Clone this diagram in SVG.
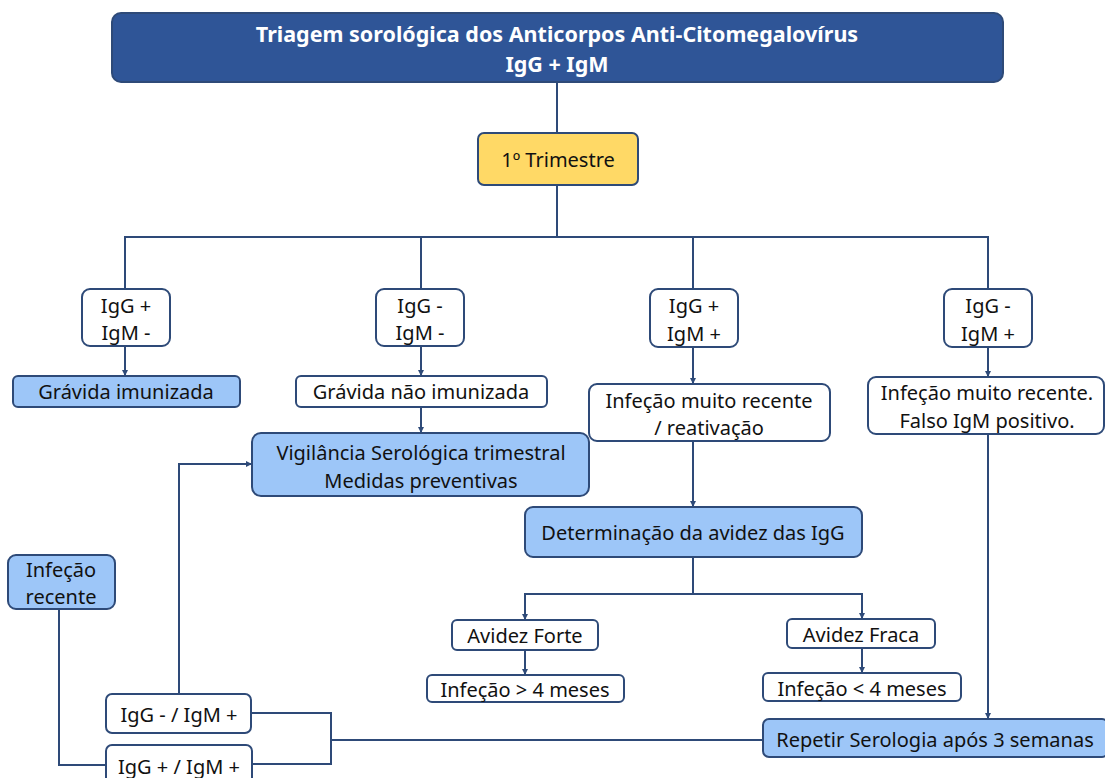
<svg xmlns="http://www.w3.org/2000/svg" width="1105" height="778" viewBox="0 0 1105 778">
  <style>
    .box { stroke: #2E4A78; stroke-width: 2; }
    .white { fill: #FFFFFF; }
    .blue { fill: #9DC6F8; }
    .lbl { font-family: "Noto Sans", "Open Sans", sans-serif; font-size: 20px; fill: #111111; text-anchor: middle; dominant-baseline: central; }
    .title { font-family: "Noto Sans", "Open Sans", sans-serif; font-size: 21.5px; font-weight: bold; fill: #FFFFFF; text-anchor: middle; dominant-baseline: central; }
    .wire { fill: none; stroke: #2E4A78; stroke-width: 2; }
  </style>
  <defs>
    <marker id="arr" markerWidth="6" markerHeight="6" refX="5" refY="3" orient="auto" markerUnits="userSpaceOnUse">
      <path d="M0,0 L6,3 L0,6 Z" fill="#2E4A78"/>
    </marker>
  </defs>
  <rect width="1105" height="778" fill="#FFFFFF"/>

  <g id="connectors">
    <path class="wire" d="M557,82 V133"/>
    <path class="wire" d="M557,185 V237 M125,289 V237 H988 V289 M421,237 V289 M693,237 V289"/>
    <path class="wire" d="M125,346 V375" marker-end="url(#arr)"/>
    <path class="wire" d="M421,346 V375" marker-end="url(#arr)"/>
    <path class="wire" d="M693,347 V383" marker-end="url(#arr)"/>
    <path class="wire" d="M988,347 V376" marker-end="url(#arr)"/>
    <path class="wire" d="M421,407 V432" marker-end="url(#arr)"/>
    <path class="wire" d="M693,441 V506" marker-end="url(#arr)"/>
    <path class="wire" d="M693,557 V594 H862 V618" marker-end="url(#arr)"/>
    <path class="wire" d="M693,594 H525 V619" marker-end="url(#arr)"/>
    <path class="wire" d="M525,650 V674" marker-end="url(#arr)"/>
    <path class="wire" d="M862,648 V672" marker-end="url(#arr)"/>
    <path class="wire" d="M988,434 V718" marker-end="url(#arr)"/>
    <path class="wire" d="M179,694 V464 H251" marker-end="url(#arr)"/>
    <path class="wire" d="M59,609 V765 H106"/>
    <path class="wire" d="M251,713 H331 V764 H252 M331,740 H763"/>
  </g>

  <g id="n-title">
    <rect class="box" x="112" y="13" width="891" height="69" rx="9" fill="#2F5597" stroke="#24447A"/>
    <text class="title" x="557" y="33">Triagem sorológica dos Anticorpos Anti-Citomegalovírus</text>
    <text class="title" x="557" y="63">IgG + IgM</text>
  </g>

  <g id="n-trimestre">
    <rect class="box" x="478" y="133" width="160" height="52" rx="6" fill="#FFD966"/>
    <text class="lbl" x="558" y="159">1º Trimestre</text>
  </g>

  <g id="n-igg-pos-igm-neg">
    <rect class="box white" x="82" y="289" width="88" height="57" rx="8"/>
    <text class="lbl" x="126" y="305">IgG +</text>
    <text class="lbl" x="126" y="332">IgM -</text>
  </g>

  <g id="n-igg-neg-igm-neg">
    <rect class="box white" x="376" y="289" width="88" height="57" rx="8"/>
    <text class="lbl" x="420" y="305">IgG -</text>
    <text class="lbl" x="420" y="332">IgM -</text>
  </g>

  <g id="n-igg-pos-igm-pos">
    <rect class="box white" x="650" y="289" width="88" height="58" rx="8"/>
    <text class="lbl" x="694" y="305">IgG +</text>
    <text class="lbl" x="694" y="333">IgM +</text>
  </g>

  <g id="n-igg-neg-igm-pos">
    <rect class="box white" x="944" y="289" width="88" height="58" rx="8"/>
    <text class="lbl" x="988" y="305">IgG -</text>
    <text class="lbl" x="988" y="333">IgM +</text>
  </g>

  <g id="n-gravida-imunizada">
    <rect class="box blue" x="13" y="376" width="227" height="31" rx="5"/>
    <text class="lbl" x="126" y="391">Grávida imunizada</text>
  </g>

  <g id="n-gravida-nao-imunizada">
    <rect class="box white" x="296" y="376" width="251" height="31" rx="5"/>
    <text class="lbl" x="421" y="391">Grávida não imunizada</text>
  </g>

  <g id="n-vigilancia">
    <rect class="box blue" x="252" y="433" width="337" height="63" rx="9"/>
    <text class="lbl" x="421" y="452">Vigilância Serológica trimestral</text>
    <text class="lbl" x="421" y="480">Medidas preventivas</text>
  </g>

  <g id="n-reativacao">
    <rect class="box white" x="589" y="384" width="241" height="57" rx="8"/>
    <text class="lbl" x="709" y="400">Infeção muito recente</text>
    <text class="lbl" x="709" y="427">/ reativação</text>
  </g>

  <g id="n-falso-igm">
    <rect class="box white" x="868" y="377" width="236" height="57" rx="8"/>
    <text class="lbl" x="987" y="392">Infeção muito recente.</text>
    <text class="lbl" x="987" y="420">Falso IgM positivo.</text>
  </g>

  <g id="n-avidez">
    <rect class="box blue" x="525" y="507" width="337" height="50" rx="8"/>
    <text class="lbl" x="693" y="532">Determinação da avidez das IgG</text>
  </g>

  <g id="n-avidez-forte">
    <rect class="box white" x="452" y="620" width="146" height="30" rx="5"/>
    <text class="lbl" x="525" y="635">Avidez Forte</text>
  </g>

  <g id="n-avidez-fraca">
    <rect class="box white" x="787" y="619" width="148" height="29" rx="5"/>
    <text class="lbl" x="861" y="634">Avidez Fraca</text>
  </g>

  <g id="n-mais-4-meses">
    <rect class="box white" x="427" y="675" width="197" height="27" rx="5"/>
    <text class="lbl" x="525" y="689">Infeção &gt; 4 meses</text>
  </g>

  <g id="n-menos-4-meses">
    <rect class="box white" x="763" y="673" width="198" height="28" rx="5"/>
    <text class="lbl" x="862" y="688">Infeção &lt; 4 meses</text>
  </g>

  <g id="n-repetir">
    <rect class="box blue" x="763" y="719" width="345" height="38" rx="6"/>
    <text class="lbl" x="935" y="739">Repetir Serologia após 3 semanas</text>
  </g>

  <g id="n-infecao-recente">
    <rect class="box blue" x="8" y="555" width="107" height="54" rx="8"/>
    <text class="lbl" x="61" y="569">Infeção</text>
    <text class="lbl" x="61" y="596">recente</text>
  </g>

  <g id="n-igg-neg-igm-pos-b">
    <rect class="box white" x="106" y="694" width="145" height="39" rx="6"/>
    <text class="lbl" x="179" y="714">IgG - / IgM +</text>
  </g>

  <g id="n-igg-pos-igm-pos-b">
    <rect class="box white" x="106" y="745" width="146" height="40" rx="6"/>
    <text class="lbl" x="179" y="766">IgG + / IgM +</text>
  </g>
</svg>
